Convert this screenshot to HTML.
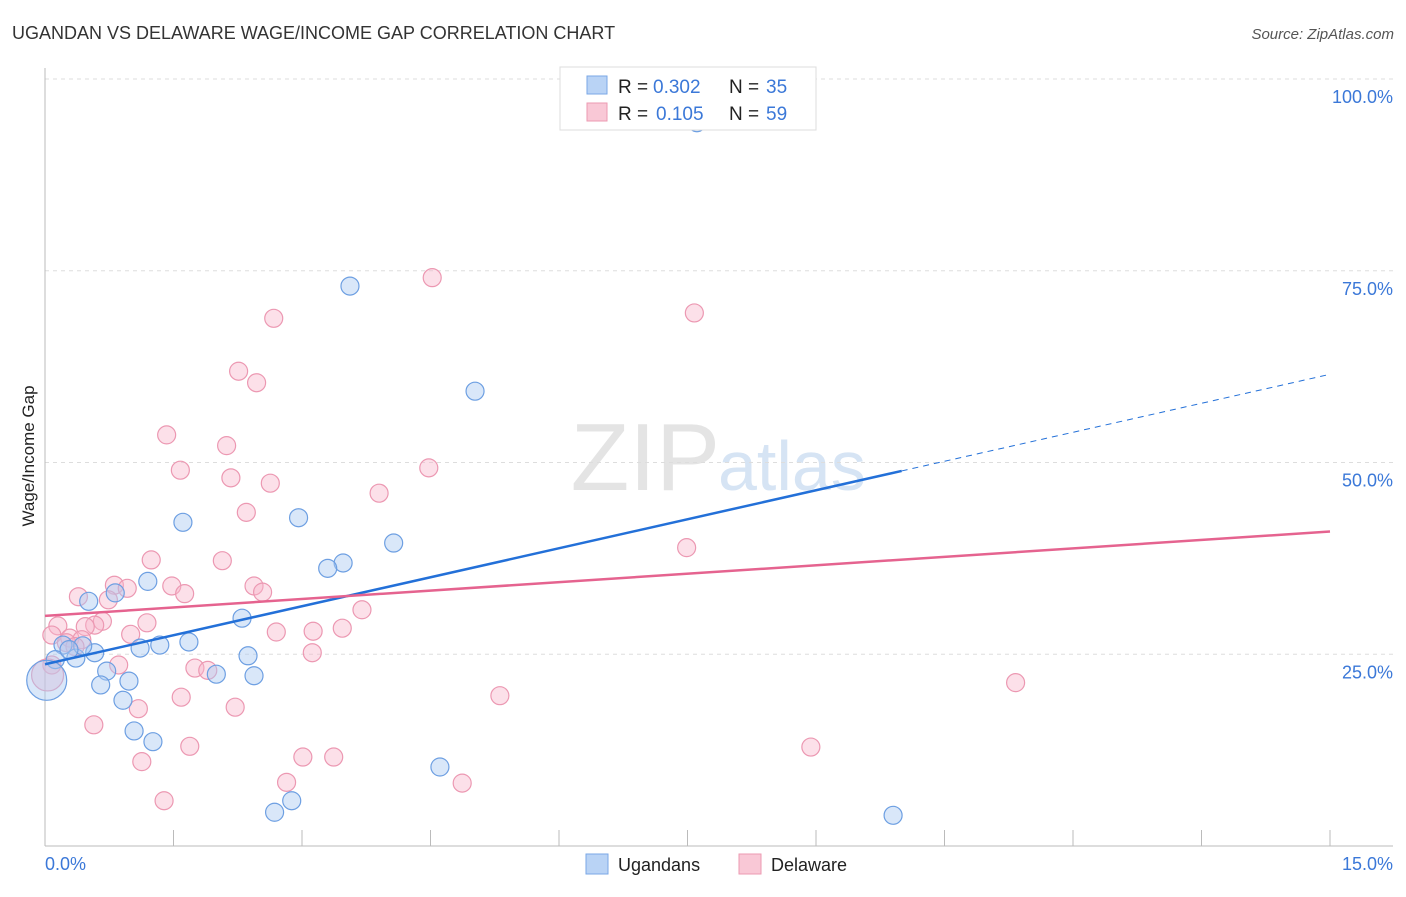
<!DOCTYPE html>
<html><head><meta charset="utf-8"><style>
body{margin:0;background:#fff;font-family:"Liberation Sans",sans-serif;}
svg text{font-family:"Liberation Sans",sans-serif;}
</style></head><body>
<svg id="chart" width="1406" height="892" xmlns="http://www.w3.org/2000/svg">
<text x="12" y="39" font-size="18" fill="#333">UGANDAN VS DELAWARE WAGE/INCOME GAP CORRELATION CHART</text>
<text x="1394" y="39" font-size="15" fill="#555" text-anchor="end" font-style="italic">Source: ZipAtlas.com</text>
<text x="720" y="490" font-size="96" fill="#e4e4e4" text-anchor="end" font-family="Liberation Serif">ZIP</text>
<text x="718" y="490" font-size="70" fill="#d6e4f4">atlas</text>
<text transform="translate(34,456) rotate(-90)" font-size="17" fill="#222" text-anchor="middle">Wage/Income Gap</text>
<g id="grid"></g><g id="axes"></g><g id="pts"></g><g id="lines"></g>
<g>
<rect x="560" y="67" width="256" height="63" fill="#fff" stroke="#ddd"/>
<rect x="587" y="76" width="20" height="18" fill="#b9d3f5" stroke="#7aa7e6"/>
<rect x="587" y="103" width="20" height="18" fill="#f9c8d6" stroke="#ec9ab2"/>
<text x="618" y="93" font-size="19" fill="#222">R =</text>
<text x="653" y="93" font-size="19" fill="#3b78d8">0.302</text>
<text x="729" y="93" font-size="19" fill="#222">N =</text>
<text x="766" y="93" font-size="19" fill="#3b78d8">35</text>
<text x="618" y="120" font-size="19" fill="#222">R =</text>
<text x="656" y="120" font-size="19" fill="#3b78d8">0.105</text>
<text x="729" y="120" font-size="19" fill="#222">N =</text>
<text x="766" y="120" font-size="19" fill="#3b78d8">59</text>
</g>
<g>
<rect x="586" y="854" width="22" height="20" fill="#b9d3f5" stroke="#7aa7e6"/>
<text x="618" y="871" font-size="18" fill="#222">Ugandans</text>
<rect x="739" y="854" width="22" height="20" fill="#f9c8d6" stroke="#ec9ab2"/>
<text x="771" y="871" font-size="18" fill="#222">Delaware</text>
</g>
</svg>
<script>
const blueX=[7.61,3.56,5.02,1.61,2.96,4.07,3.48,3.30,1.20,0.51,0.82,2.30,1.68,1.34,1.11,0.58,0.36,0.21,0.44,0.12,2.37,0.72,2.00,2.44,0.65,0.98,0.91,1.04,1.26,4.61,2.88,2.68,9.90,0.02,0.28];
const blueY=[94.3,73.0,59.3,42.2,42.8,39.5,36.9,36.2,34.5,31.9,33.0,29.7,26.6,26.2,25.8,25.2,24.5,26.2,26.1,24.3,24.8,22.8,22.4,22.2,21.0,21.5,19.0,15.0,13.6,10.3,5.9,4.4,4.0,21.6,25.6];
const pinkX=[4.52,2.67,7.58,2.26,2.47,1.42,2.12,1.58,4.48,2.17,2.63,3.90,2.35,7.49,1.24,2.07,1.48,0.81,0.96,2.44,2.54,1.63,0.39,0.74,3.70,1.19,0.67,0.58,0.15,0.47,2.70,3.13,3.47,0.08,1.00,0.29,0.43,0.25,3.12,0.86,1.75,1.90,11.33,5.31,1.59,2.22,1.09,0.57,1.69,8.94,3.01,3.37,1.13,2.82,4.87,1.39,0.08,0.03,0.35];
const pinkY=[74.1,68.8,69.5,61.9,60.4,53.6,52.2,49.0,49.3,48.0,47.3,46.0,43.5,38.9,37.3,37.2,33.9,34.0,33.6,33.9,33.1,32.9,32.5,32.1,30.8,29.1,29.3,28.8,28.7,28.6,27.9,28.0,28.4,27.5,27.6,27.1,26.9,26.5,25.2,23.6,23.2,22.9,21.3,19.6,19.4,18.1,17.9,15.8,13.0,12.9,11.6,11.6,11.0,8.3,8.2,5.9,23.6,22.3,26.0];
const yTicks=[100,75,50,25];
const yTickLabels=["100.0%","75.0%","50.0%","25.0%"];
const xTicks=[0,1.5,3,4.5,6,7.5,9,10.5,12,13.5,15];
const blueTrend=[23.7,61.5]; const blueSolidEnd=10;
const pinkTrend=[30.0,41.0];
const X=v=>45+v*(1285/15), Y=v=>846-v*7.67;
const NS="http://www.w3.org/2000/svg";
function mk(p,t,a){const e=document.createElementNS(NS,t);for(const k in a)e.setAttribute(k,a[k]);document.getElementById(p).appendChild(e);return e;}
yTicks.forEach((t,i)=>{
 const l=mk('grid','line',{x1:45,x2:1393,y1:Y(t),y2:Y(t),stroke:'#ddd','stroke-dasharray':'4 4'});
 
 
 const tx=mk('grid','text',{x:1393,y:Y(t)+24,'font-size':18,fill:'#3b78d8','text-anchor':'end'});
 tx.textContent=yTickLabels[i];
 
 
});
const ya=mk('axes','line',{x1:45,x2:45,y1:68,y2:846,stroke:'#bbb'});


const xa=mk('axes','line',{x1:45,x2:1393,y1:846,y2:846,stroke:'#bbb'});


xTicks.forEach(t=>{const l=mk('axes','line',{x1:X(t),x2:X(t),y1:830,y2:846,stroke:'#bbb'});
 
 });
[[0,'start',45,'0.0%'],[15,'end',1393,'15.0%']].forEach(a=>{const t=mk('axes','text',{x:a[2],y:870,'font-size':18,fill:'#3b78d8','text-anchor':a[1]});t.textContent=a[3];
 
 });
pinkX.forEach((x,i)=>{const c=mk('pts','circle',{cx:X(x),cy:Y(pinkY[i]),r:i==57?16:9,fill:'rgba(248,182,202,0.42)',stroke:'#ec98b2','stroke-width':1.2});
 
 });
blueX.forEach((x,i)=>{const c=mk('pts','circle',{cx:X(x),cy:Y(blueY[i]),r:i==33?20:9,fill:'rgba(170,202,242,0.45)',stroke:'#6d9fe2','stroke-width':1.2});
 
 });
const by=x=>blueTrend[0]+(blueTrend[1]-blueTrend[0])*x/15;
const b1=mk('lines','line',{x1:X(0),y1:Y(by(0)),x2:X(blueSolidEnd),y2:Y(by(blueSolidEnd)),stroke:'#2370d8','stroke-width':2.5});


const b2=mk('lines','line',{x1:X(blueSolidEnd),y1:Y(by(blueSolidEnd)),x2:X(15),y2:Y(by(15)),stroke:'#2370d8','stroke-width':1,'stroke-dasharray':'6 5'});


const p1=mk('lines','line',{x1:X(0),y1:Y(pinkTrend[0]),x2:X(15),y2:Y(pinkTrend[1]),stroke:'#e5638f','stroke-width':2.5});


</script>
</body></html>
